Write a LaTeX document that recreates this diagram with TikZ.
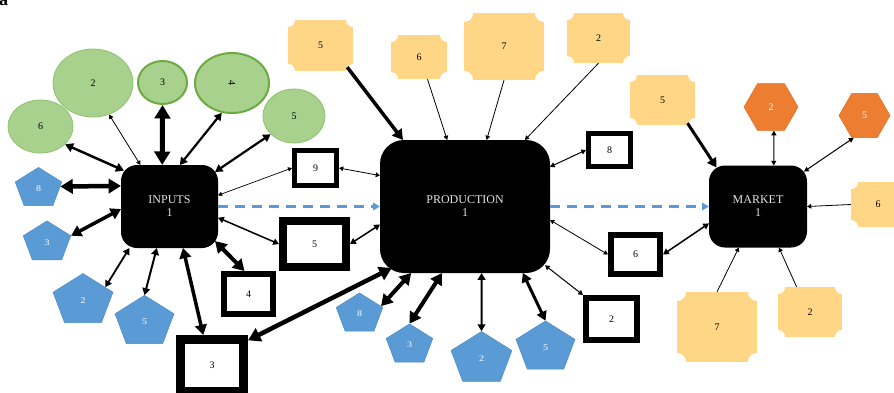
\documentclass[tikz,border=0pt]{standalone}
\usepackage{fontspec}
\usepackage{graphicx}
\setmainfont{Liberation Serif}
\usetikzlibrary{shapes.geometric,arrows.meta}

\definecolor{leaf}{HTML}{A9D18E}
\definecolor{leafedge}{HTML}{8EC46E}
\definecolor{leafdark}{HTML}{6CAA42}
\definecolor{sky}{HTML}{5B9BD5}
\definecolor{skyedge}{HTML}{4C8BC8}
\definecolor{sand}{HTML}{FFD685}
\definecolor{ember}{HTML}{ED7D31}
\definecolor{emberedge}{HTML}{DC6E25}
\definecolor{hubtext}{HTML}{E2E2E2}

\tikzset{
  digits/.style={font=\fontsize{10}{12}\selectfont},
  hub/.style={rectangle, fill=black, text=hubtext, align=center, inner sep=0pt,
    outer sep=0pt, font=\fontsize{12}{13}\selectfont},
  leafnode/.style={ellipse, fill=leaf, draw=leafedge, line width=.8pt, inner sep=0pt, digits},
  leafbold/.style={leafnode, draw=leafdark, line width=2pt},
  pent/.style={regular polygon, regular polygon sides=5, fill=sky, draw=skyedge,
    line width=.5pt, text=white, inner sep=0pt, digits},
  hexa/.style={regular polygon, regular polygon sides=6, fill=ember, draw=emberedge,
    line width=.5pt, text=white, inner sep=0pt, digits},
  framebox/.style={rectangle, draw=black, fill=white, inner sep=0pt, digits},
  notch/.store in=\notchr, notch=7pt,
  plaque/.style={rectangle, fill=sand, inner sep=0pt, digits,
    path picture={\foreach \c in {north west,north east,south west,south east}
      {\fill[white] (path picture bounding box.\c) circle[radius=\notchr];}}},
  wtip/.tip={Triangle[length=2.5pt 2.2,width=2.5pt 2.6]},
  duo/.style={draw=black, wtip-wtip},
  uni/.style={draw=black, -wtip},
  flow/.style={draw=sky, line width=2.2pt, dash pattern=on 10pt off 7pt,
    -{Triangle[length=7pt,width=7.5pt]}},
}

% blue pentagon, squashed vertically
\newcommand\skypent[5]{%
  \begin{scope}[shift={(#2,#3)},yscale=.86]
    \node[pent,minimum size=#4pt,transform shape] (#1) at (0,0) {#5};
  \end{scope}}

\begin{document}
\begin{tikzpicture}[x=1pt,y=-1pt]
\fill[white] (0,0) rectangle (894,392);
\useasboundingbox (0,0) rectangle (894,392);

% panel letter
\node[font=\bfseries\fontsize{18}{18}\selectfont, anchor=base west, inner sep=0pt] (tag) at (-1,5.5) {a};

% three hubs
\node[hub, minimum width=97pt, minimum height=83pt, rounded corners=16pt] (inp) at (169.5,206.5) {INPUTS\\1};
\node[hub, minimum width=170pt, minimum height=133pt, rounded corners=24pt] (prod) at (465,206.5) {PRODUCTION\\1};
\node[hub, minimum width=98pt, minimum height=82pt, rounded corners=16pt] (mkt) at (758,206.5) {MARKET\\1};

% green circles
\node[leafnode, minimum width=65pt, minimum height=53pt] (g6) at (40.5,126.5) {6};
\node[leafnode, minimum width=80pt, minimum height=68pt] (g2) at (93,83) {2};
\node[leafbold, minimum width=49pt, minimum height=43pt] (g3) at (162.5,82.5) {3};
\node[leafbold, minimum width=74pt, minimum height=60pt] (g4) at (232,83) {\rotatebox[origin=c]{-90}{4}};
\node[leafnode, minimum width=62pt, minimum height=54pt] (g5) at (294,116) {5};

% blue pentagons
\skypent{ip8}{38.5}{188.5}{49}{8}
\skypent{ip3}{47}{242.4}{50}{3}
\skypent{ip2}{83}{300.6}{63}{2}
\skypent{ip5}{144.5}{322}{62}{5}
\skypent{pp8}{359.5}{314}{49}{8}
\skypent{pp3}{409.5}{345}{49}{3}
\skypent{pp2}{481.5}{359}{64}{2}
\skypent{pp5}{545.5}{347.6}{62}{5}

% orange hexagons
\node[hexa, minimum size=54pt] (hx2) at (771,107) {2};
\node[hexa, minimum size=51pt] (hx5) at (864.5,115.5) {5};

% framed squares
\node[framebox, line width=5pt, minimum width=42pt, minimum height=35pt] (s9) at (315.5,168) {9};
\node[framebox, line width=8pt, minimum width=63pt, minimum height=46pt] (s5) at (314.5,244) {5};
\node[framebox, line width=6pt, minimum width=49pt, minimum height=40pt] (s4) at (248.5,294) {4};
\node[framebox, line width=9pt, minimum width=63pt, minimum height=52pt] (s3) at (212,365.5) {3};
\node[framebox, line width=5pt, minimum width=42pt, minimum height=33pt] (s8) at (609.5,150) {8};
\node[framebox, line width=6pt, minimum width=49pt, minimum height=39pt] (s6) at (635.5,254.5) {6};
\node[framebox, line width=6pt, minimum width=51pt, minimum height=42pt] (s2) at (611.5,319) {2};

% sand plaques
\node[plaque, minimum width=65pt, minimum height=51pt] (q5a) at (320.5,45.5) {5};
\node[plaque, minimum width=56pt, minimum height=44pt] (q6a) at (419,57) {6};
\node[plaque, notch=9pt, minimum width=80pt, minimum height=67pt] (q7a) at (504,46.5) {7};
\node[plaque, minimum width=63pt, minimum height=50pt] (q2a) at (598.5,38) {2};
\node[plaque, minimum width=65pt, minimum height=50pt] (q5b) at (662.5,100) {5};
\node[plaque, minimum width=54pt, minimum height=45pt] (q6b) at (878,204.5) {6};
\node[plaque, notch=9pt, minimum width=80pt, minimum height=70pt] (q7b) at (717,327) {7};
\node[plaque, minimum width=64pt, minimum height=50pt] (q2b) at (810,312) {2};

% main flow
\draw[flow] (inp.east) -- (prod.west);
\draw[flow] (prod.east) -- (mkt.west);

% links around INPUTS
\draw[duo, line width=2.5pt] (g6.324) -- ([xshift=3pt,yshift=-2pt]inp.142);
\draw[duo, line width=.8pt] (g2.297) -- (inp.125);
\draw[duo, line width=5pt] (g3.270) -- (inp.100);
\draw[duo, line width=2.2pt] (g4.251) -- (inp.76);
\draw[duo, line width=2.2pt] (g5.218) -- ([xshift=-3pt,yshift=-2pt]inp.37);
\draw[duo, line width=4.5pt] (ip8.6) -- (inp.157);
\draw[duo, line width=3.5pt] (ip3.18) -- (inp.183);
\draw[duo, line width=1.8pt] (ip2.35) -- (inp.226);
\draw[duo, line width=2pt] (ip5.90) -- (inp.253);
\draw[duo, line width=3.5pt] (s3.106) -- (inp.288);
\draw[duo, line width=4pt] (s4.100) -- ([xshift=-3pt,yshift=2pt]inp.323);
\draw[duo, line width=1.5pt] (s5.west) -- (inp.347);
\draw[duo, line width=.7pt] (s9.west) -- (inp.13);

% links around PRODUCTION
\draw[duo, line width=.8pt] (s9.east) -- (prod.160);
\draw[uni, line width=3.5pt] ([xshift=-5pt,yshift=4pt]q5a.321) -- (prod.133);
\draw[uni, line width=.8pt] (q6a.291) -- (prod.105);
\draw[uni, line width=.8pt] (q7a.south) -- (prod.72);
\draw[uni, line width=.8pt] (q2a.south) -- (prod.48);
\draw[duo, line width=1pt] (s8.west) -- (prod.25);
\draw[duo, line width=1.5pt] (s5.east) -- (prod.192);
\draw[duo, line width=4.5pt] (s3.35) -- ([xshift=6pt,yshift=5pt]prod.220);
\draw[duo, line width=4pt] (pp8.23) -- (prod.231);
\draw[duo, line width=4pt] (pp3.90) -- (prod.251);
\draw[duo, line width=2pt] (pp2.90) -- (prod.284);
\draw[duo, line width=3pt] (pp5.90) -- (prod.311);
\draw[duo, line width=.8pt] (s6.west) -- (prod.351);
\draw[duo, line width=1pt] (s2.north west) -- ([xshift=-5pt,yshift=3pt]prod.324);

% links around MARKET
\draw[uni, line width=3pt] ([xshift=-2pt,yshift=2pt]q5b.317) -- ([xshift=1pt,yshift=-2pt]mkt.136);
\draw[duo, line width=1pt] (hx2.277) -- (mkt.69);
\draw[duo, line width=1pt] (hx5.244) -- ([xshift=-3pt,yshift=-2pt]mkt.37.5);
\draw[uni, line width=.8pt] (q6b.west) -- (mkt.east);
\draw[duo, line width=1.5pt] (s6.east) -- (mkt.199.5);
\draw[uni, line width=.8pt] (q7b.north) -- (mkt.245);
\draw[uni, line width=.8pt] (q2b.118) -- (mkt.297);
\end{tikzpicture}
\end{document}
